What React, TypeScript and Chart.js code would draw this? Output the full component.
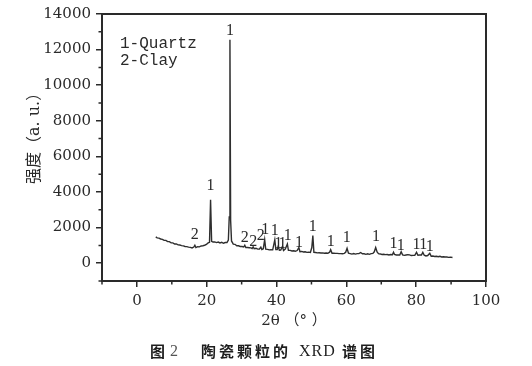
import React, { useEffect, useRef } from "react";
import { Chart, registerables } from "chart.js";

Chart.register(...registerables);

const twoTheta = [
  5.4, 5.8, 6.3, 6.8, 7.3, 7.8, 8.3, 8.8, 9.3, 9.8, 10.3, 10.8, 11.3, 11.8, 12.3, 12.8, 13.3, 13.8, 14.3, 14.8,
  15.3, 15.8, 16.3, 16.6, 16.9, 17.4, 17.9, 18.4, 18.9, 19.4, 19.9, 20.4, 20.8, 21.1, 21.4, 21.8, 22.3, 22.8,
  23.3, 23.8, 24.3, 24.8, 25.3, 25.8, 26.2, 26.45, 26.65, 26.85, 27.1, 27.6, 28.1, 28.6, 29.1, 29.6, 30.1, 30.6,
  30.9, 31.2, 31.7, 32.2, 32.7, 33.0, 33.3, 33.6, 34.1, 34.6, 35.1, 35.5, 35.8, 36.2, 36.6, 36.9, 37.4, 37.9,
  38.4, 38.9, 39.5, 39.8, 40.2, 40.5, 40.8, 41.2, 41.7, 42.0, 42.5, 43.1, 43.4, 43.9, 44.4, 44.9, 45.4, 45.9,
  46.4, 46.7, 47.2, 47.7, 48.2, 48.7, 49.2, 49.7, 50.1, 50.4, 50.7, 51.2, 51.7, 52.2, 52.7, 53.2, 53.7, 54.2,
  54.7, 55.2, 55.5, 55.9, 56.4, 56.9, 57.4, 57.9, 58.4, 58.9, 59.4, 59.8, 60.2, 60.6, 61.1, 61.6, 62.1, 62.6,
  63.1, 63.6, 64.1, 64.6, 65.1, 65.6, 66.1, 66.6, 67.1, 67.6, 68.0, 68.4, 68.8, 69.2, 69.7, 70.2, 70.7, 71.2,
  71.7, 72.2, 72.7, 73.2, 73.5, 73.8, 74.3, 74.8, 75.3, 75.7, 76.1, 76.6, 77.1, 77.6, 78.1, 78.6, 79.1, 79.6,
  80.1, 80.5, 81.0, 81.5, 81.9, 82.3, 82.8, 83.3, 83.9, 84.3, 84.8, 85.3, 85.8, 86.3, 86.8, 87.3, 87.8, 88.3,
  88.8, 89.3, 89.8, 90.4,
];

const intensity = [
  1480, 1420, 1410, 1360, 1340, 1280, 1280, 1210, 1210, 1140, 1140, 1080, 1080, 1030, 1020, 990, 970, 940, 930, 900,
  890, 860, 910, 1010, 880, 930, 920, 970, 980, 1010, 1050, 1140, 1170, 3560, 1230, 1190, 1200, 1160,
  1190, 1140, 1170, 1120, 1160, 1160, 1300, 2600, 12550, 2400, 1250, 1070, 1060, 980, 980, 940, 940, 910,
  1010, 880, 880, 870, 860, 820, 920, 810, 840, 790, 800, 900, 770, 810, 1320, 790, 780, 750,
  760, 750, 1320, 770, 770, 960, 730, 740, 950, 710, 790, 1080, 720, 720, 690, 700, 670, 710,
  880, 650, 660, 630, 640, 610, 620, 600, 880, 1550, 610, 600, 580, 590, 570, 580, 560, 570,
  560, 620, 760, 560, 560, 550, 550, 540, 540, 530, 550, 610, 840, 560, 540, 510, 540, 510,
  540, 540, 600, 530, 530, 500, 530, 500, 540, 550, 640, 880, 630, 540, 520, 490, 500, 480,
  490, 460, 490, 480, 620, 490, 460, 470, 460, 640, 470, 440, 460, 480, 470, 430, 440, 440,
  610, 450, 460, 460, 610, 450, 410, 430, 560, 390, 400, 380, 390, 360, 390, 350, 360, 350,
  350, 330, 340, 320,
];

const peakX = [16.6, 21.1, 26.7, 30.9, 33.3, 35.5, 36.8, 39.5, 40.5, 41.7, 43.2, 46.4, 50.4, 55.5, 60.1, 68.5, 73.5, 75.6, 80.1, 82.0, 83.9];
const peakY = [1570, 4350, 13030, 1400, 1220, 1520, 1890, 1810, 1100, 1100, 1560, 1170, 2040, 1190, 1430, 1470, 1100, 965, 1040, 1040, 910];
const peakText = ["2", "1", "1", "2", "2", "2", "1", "1", "1", "1", "1", "1", "1", "1", "1", "1", "1", "1", "1", "1", "1"];

const xMajor = [0, 20, 40, 60, 80, 100];
const xMinor = [-10, 10, 30, 50, 70, 90];
const yMajor = [0, 2000, 4000, 6000, 8000, 10000, 12000, 14000];
const yMinor = [-1000, 1000, 3000, 5000, 7000, 9000, 11000, 13000];
const legendLines = ["1-Quartz", "2-Clay"];

const INK = "#2a2a2a";

const decor = {
  id: "decor",
  afterDraw(chart: any) {
    const { ctx, chartArea: a, scales } = chart;
    const x = scales.x;
    const y = scales.y;
    ctx.save();
    ctx.strokeStyle = INK;
    ctx.lineWidth = 1.5;
    ctx.beginPath();
    xMinor.forEach((v) => {
      const px = x.getPixelForValue(v);
      ctx.moveTo(px, a.bottom);
      ctx.lineTo(px, a.bottom + 3.5);
    });
    yMinor.forEach((v) => {
      const py = y.getPixelForValue(v);
      ctx.moveTo(a.left, py);
      ctx.lineTo(a.left - 3.5, py);
    });
    ctx.stroke();
    ctx.lineWidth = 2;
    ctx.strokeRect(a.left, a.top, a.right - a.left, a.bottom - a.top);

    ctx.fillStyle = INK;
    ctx.font = '16px "Liberation Serif"';
    ctx.textAlign = "center";
    ctx.textBaseline = "middle";
    peakX.forEach((v, i) => {
      ctx.fillText(peakText[i], x.getPixelForValue(v), y.getPixelForValue(peakY[i]));
    });

    ctx.font = '16px "Liberation Mono"';
    ctx.textAlign = "left";
    legendLines.forEach((t, i) => {
      ctx.fillText(t, a.left + 18, a.top + 30 + i * 17);
    });
    ctx.restore();
  },
};

export default function App() {
  const ref = useRef<HTMLCanvasElement | null>(null);

  useEffect(() => {
    if (!ref.current) return;
    const data = twoTheta.map((t, i) => ({ x: t, y: intensity[i] }));
    const chart = new Chart(ref.current, {
      type: "scatter",
      data: {
        datasets: [
          {
            data,
            showLine: true,
            borderColor: "#2e2e2e",
            borderWidth: 1.4,
            pointRadius: 0,
            tension: 0,
          },
        ],
      },
      options: {
        animation: false,
        responsive: false,
        devicePixelRatio: 1,
        layout: { padding: { top: 12, right: 46, left: 0, bottom: 0 } },
        plugins: { legend: { display: false }, tooltip: { enabled: false }, title: { display: false } },
        scales: {
          x: {
            type: "linear",
            min: -10,
            max: 100,
            afterBuildTicks: (s: any) => {
              s.ticks = xMajor.map((v) => ({ value: v }));
            },
            afterFit: (s: any) => {
              s.height = 85;
            },
            grid: { display: true, drawOnChartArea: false, drawTicks: true, tickLength: 6, color: INK, lineWidth: 1.5 },
            border: { display: false },
            ticks: {
              color: INK,
              padding: 5,
              maxRotation: 0,
              font: { family: '"DejaVu Serif"', size: 15 },
              callback: (v: any) => String(v),
            },
            title: {
              display: true,
              text: "2θ （° ）",
              color: INK,
              font: { family: '"DejaVu Serif", "Noto Sans CJK SC"', size: 15 },
              padding: { top: 0, bottom: 36 },
            },
          },
          y: {
            type: "linear",
            min: -1000,
            max: 14000,
            afterBuildTicks: (s: any) => {
              s.ticks = yMajor.map((v) => ({ value: v }));
            },
            afterFit: (s: any) => {
              s.width = 102;
            },
            grid: { display: true, drawOnChartArea: false, drawTicks: true, tickLength: 6, color: INK, lineWidth: 1.5 },
            border: { display: false },
            ticks: {
              color: INK,
              padding: 5,
              font: { family: '"DejaVu Serif"', size: 15 },
              callback: (v: any) => String(v),
            },
            title: {
              display: true,
              text: "\u3000  强度（a. u.）",
              color: INK,
              font: { family: '"DejaVu Serif", "Noto Sans CJK SC"', size: 16 },
              padding: { top: 25, bottom: 0 },
            },
          },
        },
      },
      plugins: [decor],
    });
    return () => chart.destroy();
  }, []);

  const cjk = '"Noto Sans CJK SC", sans-serif';
  const serif = '"Liberation Serif", serif';
  const base: React.CSSProperties = { position: "absolute", top: 342, fontSize: 15, lineHeight: "17px", color: "#1e1e1e", whiteSpace: "pre" };

  return (
    <div style={{ position: "absolute", left: 0, top: 0, width: 532, height: 366 }}>
      <canvas ref={ref} width={532} height={366} style={{ display: "block" }} />
      <span style={{ ...base, left: 150, fontFamily: cjk, fontWeight: 700 }}>图</span>
      <span style={{ ...base, left: 170, fontFamily: serif, fontSize: 16, color: "#555" }}>2</span>
      <span style={{ ...base, left: 201, fontFamily: cjk, fontWeight: 700, letterSpacing: 3 }}>陶瓷颗粒的</span>
      <span style={{ ...base, left: 299, fontFamily: serif, fontSize: 16, letterSpacing: 1 }}>XRD</span>
      <span style={{ ...base, left: 342, fontFamily: cjk, fontWeight: 700, letterSpacing: 3 }}>谱图</span>
    </div>
  );
}
